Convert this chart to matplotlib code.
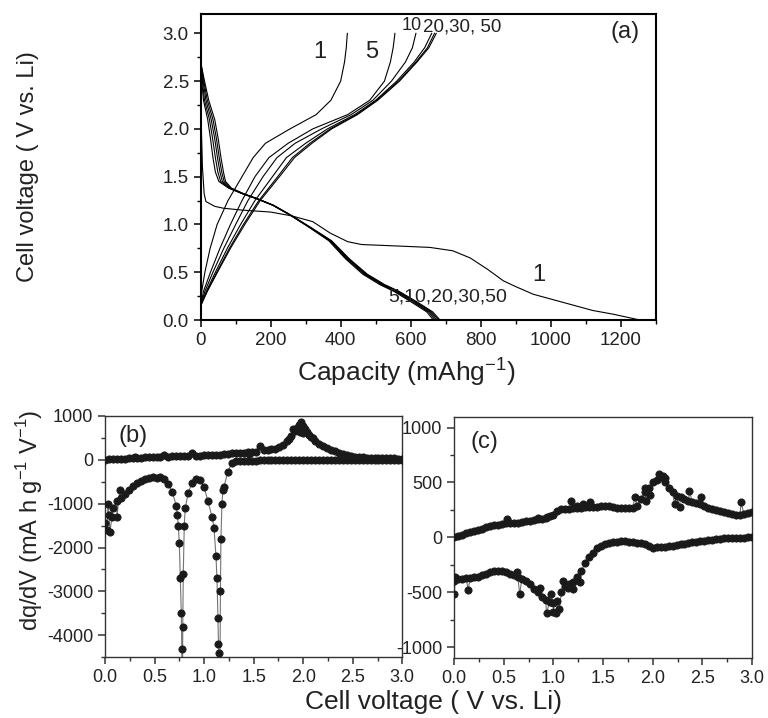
import numpy as np
import matplotlib
matplotlib.use("Agg")
import matplotlib.pyplot as plt
from matplotlib.ticker import MultipleLocator

plt.rcParams['font.family'] = ['Liberation Sans', 'DejaVu Sans']
plt.rcParams['mathtext.fontset'] = 'custom'
plt.rcParams['mathtext.rm'] = 'Liberation Sans'
plt.rcParams['axes.unicode_minus'] = False
TXT = '#222222'

# ---------------- (a) charge / discharge profiles ----------------
# first discharge
d1_cap = [0, 2, 5, 10, 15, 40, 65, 120, 200, 260, 320, 370, 420, 460, 560, 655, 720,
          770, 820, 865, 900, 950, 1000, 1060, 1120, 1180, 1230, 1255]
d1_volt = [2.45, 2.0, 1.6, 1.32, 1.24, 1.19, 1.17, 1.15, 1.13, 1.09, 1.03, 0.91, 0.82,
           0.79, 0.775, 0.76, 0.725, 0.65, 0.53, 0.41, 0.35, 0.27, 0.22, 0.16, 0.10,
           0.06, 0.02, 0.0]

# later discharges: capacity read at these voltages
dis_volt = [2.70, 2.50, 2.30, 2.10, 1.90, 1.70, 1.55, 1.45, 1.38, 1.32, 1.27, 1.20,
            1.10, 0.97, 0.83, 0.64, 0.48, 0.37, 0.30, 0.19, 0.085, 0.0]
dis_c5 = [0, 3, 8, 20, 28, 35, 42, 52, 80, 120, 160, 207, 255, 310, 366, 414, 463, 512, 552, 601, 646, 665]
dis_c10 = [0, 5, 11, 25, 34, 42, 49, 57, 82, 121, 160, 207, 255, 311, 368, 417, 467, 516, 556, 606, 651, 670]
dis_c20 = [0, 7, 15, 30, 40, 48, 55, 62, 84, 122, 160, 207, 255, 312, 370, 420, 470, 520, 560, 610, 655, 675]
dis_c30 = [0, 9, 19, 35, 45, 53, 60, 67, 86, 123, 161, 208, 256, 313, 372, 423, 473, 523, 564, 614, 659, 680]
dis_c50 = [0, 11, 23, 40, 50, 58, 65, 71, 88, 124, 162, 209, 257, 314, 374, 425, 476, 526, 567, 618, 663, 684]

# charges: capacity read at these voltages
chg_volt = [0.15, 0.3, 0.5, 0.75, 1.0, 1.25, 1.5, 1.7, 1.85, 2.0, 2.15, 2.3, 2.5, 2.7, 2.85, 3.0]
chg_c1 = [0, 3, 12, 27, 47, 78, 118, 150, 185, 255, 330, 372, 400, 411, 416, 419]
chg_c5 = [0, 8, 28, 55, 85, 118, 155, 195, 250, 320, 420, 483, 525, 542, 550, 555]
chg_c10 = [0, 12, 35, 66, 100, 135, 178, 218, 270, 345, 430, 492, 545, 585, 605, 615]
chg_c20 = [0, 16, 42, 76, 114, 155, 205, 245, 300, 362, 440, 500, 560, 610, 640, 660]
chg_c30 = [0, 18, 46, 82, 122, 166, 220, 262, 312, 370, 445, 503, 565, 615, 648, 668]
chg_c50 = [0, 19, 48, 85, 126, 170, 225, 268, 318, 374, 448, 506, 568, 618, 652, 673]

# ---------------- (b), (c) dq/dV ----------------
grid_v = [0.00, 0.04, 0.08, 0.12, 0.16, 0.20, 0.24, 0.28, 0.32, 0.36, 0.40, 0.44, 0.48,
          0.52, 0.56, 0.60, 0.64, 0.68, 0.72, 0.76, 0.80, 0.84, 0.88, 0.92, 0.96, 1.00,
          1.04, 1.08, 1.12, 1.16, 1.20, 1.24, 1.28, 1.32, 1.36, 1.40, 1.44, 1.48, 1.52,
          1.56, 1.60, 1.64, 1.68, 1.72, 1.76, 1.80, 1.84, 1.88, 1.92, 1.96, 2.00, 2.04,
          2.08, 2.12, 2.16, 2.20, 2.24, 2.28, 2.32, 2.36, 2.40, 2.44, 2.48, 2.52, 2.56,
          2.60, 2.64, 2.68, 2.72, 2.76, 2.80, 2.84, 2.88, 2.92, 2.96, 3.00]

b_charge = [0, 5, 10, 15, 20, 25, 30, 35, 40, 45, 50, 52, 56, 60, 65, 95, 70, 72, 75, 78,
            80, 82, 160, 88, 90, 95, 100, 105, 110, 115, 120, 130, 150, 150, 155, 160, 165,
            170, 180, 300, 210, 225, 235, 250, 290, 340, 430, 530, 650, 800, 760, 620, 520,
            420, 360, 300, 260, 220, 190, 160, 130, 100, 80, 70, 60, 50, 45, 42, 40, 38, 35,
            32, 30, 28, 25, 22]
b_charge_xv = [1.86, 1.90, 1.94, 1.97, 1.98, 2.00, 2.02, 2.06, 2.10, 0.30, 1.45]
b_charge_xq = [480, 700, 720, 640, 850, 600, 700, 560, 500, 60, 140]

b_disch = [-1450, -1250, -1100, -950, -880, -780, -680, -600, -540, -480, -430, -410, -400,
           -410, -400, -440, -560, -740, -1050, -2700, -1500, -750, -530, -440, -460, -630,
           -950, -1300, -2200, -5000, -620, -280, -80, -40, -30, -25, -22, -20, -20, -18,
           -18, -16, -15, -15, -14, -14, -13, -12, -12, -11, -10, -10, -10, -9, -9, -8, -8,
           -8, -7, -7, -7, -6, -6, -6, -6, -5, -5, -5, -5, -5, -5, -5, -5, -5, -5, -5]
b_disch_xv = [0.77, 0.775, 0.78, 0.785, 0.79, 0.75, 0.74, 0.73, 0.81, 1.13, 1.14, 1.145,
              1.15, 1.155, 1.165, 1.17, 1.18, 1.19, 1.10, 0.02, 0.05, 0.07, 0.03, 0.12, 0.15]
b_disch_xq = [-3500, -4300, -6000, -3800, -2600, -1900, -1500, -1250, -1100, -2700, -3600,
              -4200, -6000, -4400, -3000, -1800, -1000, -700, -1550, -1600, -1650, -1300,
              -1000, -1300, -700]

c_charge = [5, 15, 25, 35, 45, 55, 65, 80, 90, 100, 110, 115, 120, 130, 130, 135, 135, 140,
            145, 150, 155, 165, 170, 180, 190, 205, 240, 255, 260, 262, 265, 268, 270, 272,
            275, 278, 280, 282, 285, 285, 280, 270, 268, 265, 265, 270, 290, 350, 410, 450,
            500, 520, 550, 500, 450, 410, 380, 365, 350, 335, 320, 310, 300, 285, 270, 260,
            250, 242, 235, 225, 215, 205, 200, 210, 220, 230]
c_charge_xv = [0.53, 0.84, 0.93, 1.18, 1.24, 1.30, 1.37, 1.82, 1.93, 1.97, 1.92, 2.06, 2.10,
               2.12, 2.22, 2.27, 2.37, 2.49, 2.89]
c_charge_xq = [170, 175, 185, 330, 290, 300, 325, 370, 330, 390, 450, 580, 560, 540, 300,
               280, 420, 370, 320]

c_disch = [-400, -380, -380, -375, -370, -365, -360, -345, -330, -315, -305, -305, -310,
           -320, -330, -345, -360, -380, -400, -425, -470, -500, -540, -570, -590, -600,
           -580, -500, -440, -430, -410, -360, -310, -230, -180, -140, -100, -75, -60, -50,
           -45, -40, -38, -38, -40, -45, -50, -55, -60, -75, -95, -90, -85, -85, -82, -80,
           -72, -65, -58, -50, -45, -40, -35, -30, -25, -20, -15, -12, -10, -8, -6, -4, -3,
           -2, 0, 0]
c_disch_xv = [0.00, 0.01, 0.14, 0.63, 0.66, 0.86, 0.93, 0.97, 1.00, 1.03, 1.06, 1.10, 1.15,
              1.20, 1.27]
c_disch_xq = [-520, -360, -480, -320, -520, -460, -690, -520, -680, -690, -650, -400, -460,
              -470, -410]


def style(ax, dark='black', lw=1.5):
    for s in ax.spines.values():
        s.set_color(dark)
        s.set_linewidth(lw)
    ax.tick_params(which='both', direction='out', colors=dark, labelcolor=TXT)
    ax.tick_params(which='major', length=5, width=1.1, labelsize=13)
    ax.tick_params(which='minor', length=3, width=1.0)


def dqdv(ax, v, q, xv, xq):
    v = np.concatenate([v, xv])
    q = np.concatenate([q, xq])
    o = np.argsort(v, kind='stable')
    ax.plot(v[o], q[o], '-', color='0.45', lw=0.8, zorder=2)
    ax.plot(v[o], q[o], 'o', color='#1a1a1a', ms=5.2, mew=0.6, mec='#1a1a1a', zorder=3)


fig = plt.figure(figsize=(7.68, 7.18), dpi=100)

# (a)
ax = fig.add_axes([0.2613, 0.5543, 0.5924, 0.4258])
lw = 0.8
ax.plot(d1_cap, d1_volt, 'k-', lw=lw)
for c in [dis_c5, dis_c10, dis_c20, dis_c30, dis_c50]:
    ax.plot(c, dis_volt, 'k-', lw=lw)
for c in [chg_c1, chg_c5, chg_c10, chg_c20, chg_c30, chg_c50]:
    ax.plot(c, chg_volt, 'k-', lw=lw)
ax.set_xlim(0, 1300)
ax.set_ylim(0, 3.2)
ax.set_xticks([0, 200, 400, 600, 800, 1000, 1200])
ax.set_yticks([0.0, 0.5, 1.0, 1.5, 2.0, 2.5, 3.0])
ax.set_yticklabels(['0.0', '0.5', '1.0', '1.5', '2.0', '2.5', '3.0'])
ax.xaxis.set_minor_locator(MultipleLocator(100))
ax.yaxis.set_minor_locator(MultipleLocator(0.25))
style(ax)
ax.tick_params(which='major', labelsize=13.5)
ax.text(341, 2.81, '1', fontsize=17, color=TXT, ha='center', va='center')
ax.text(489, 2.81, '5', fontsize=17, color=TXT, ha='center', va='center')
ax.text(574, 3.04, '10', fontsize=13, color=TXT, ha='left', va='baseline')
ax.text(636, 3.02, '20,30, 50', fontsize=13.5, color=TXT, ha='left', va='baseline')
ax.text(965, 0.47, '1', fontsize=17, color=TXT, ha='center', va='center')
ax.text(536, 0.24, '5,10,20,30,50', fontsize=14, color=TXT, ha='left', va='center')
ax.text(1212, 3.01, '(a)', fontsize=17, color=TXT, ha='center', va='center')
fig.text(406 / 768, 1 - 372 / 718, 'Capacity (mAhg$^{-1}$)', fontsize=19, color=TXT,
         ha='center', va='center')
fig.text(28 / 768, 1 - 167 / 718, 'Cell voltage ( V vs. Li)', rotation=90,
         fontsize=17, color=TXT, ha='center', va='center')

# (b)
bx = fig.add_axes([0.1367, 0.0845, 0.3871, 0.3365])
dqdv(bx, grid_v, b_charge, b_charge_xv, b_charge_xq)
dqdv(bx, grid_v, b_disch, b_disch_xv, b_disch_xq)
bx.set_xlim(0, 3.0)
bx.set_ylim(-4500, 1000)
bx.set_xticks([0.0, 0.5, 1.0, 1.5, 2.0, 2.5, 3.0])
bx.set_xticklabels(['0.0', '0.5', '1.0', '1.5', '2.0', '2.5', '3.0'])
bx.set_yticks([1000, 0, -1000, -2000, -3000, -4000])
bx.xaxis.set_minor_locator(MultipleLocator(0.25))
bx.yaxis.set_minor_locator(MultipleLocator(500))
style(bx, '#333333', 1.0)
bx.text(0.28, 536, '(b)', fontsize=17, color=TXT, ha='center', va='center')
fig.text(30 / 768, 1 - 520 / 718, 'dq/dV (mA h g$^{-1}$ V$^{-1}$)', rotation=90,
         fontsize=17, color=TXT, ha='center', va='center')

# (c)
cx = fig.add_axes([0.5915, 0.0836, 0.3876, 0.3361])
dqdv(cx, grid_v, c_charge, c_charge_xv, c_charge_xq)
dqdv(cx, grid_v, c_disch, c_disch_xv, c_disch_xq)
cx.set_xlim(0, 3.0)
cx.set_ylim(-1100, 1100)
cx.set_xticks([0.0, 0.5, 1.0, 1.5, 2.0, 2.5, 3.0])
cx.set_xticklabels(['0.0', '0.5', '1.0', '1.5', '2.0', '2.5', '3.0'])
cx.set_yticks([1000, 500, 0, -500, -1000])
cx.xaxis.set_minor_locator(MultipleLocator(0.25))
cx.yaxis.set_minor_locator(MultipleLocator(250))
style(cx, '#333333', 1.0)
cx.text(0.30, 870, '(c)', fontsize=17, color=TXT, ha='center', va='center')

fig.text(562 / 768, 1 - 702 / 718, 'Cell voltage ( V vs. Li)', fontsize=19, color=TXT,
         ha='right', va='center')

fig.savefig('out.png', dpi=100)
